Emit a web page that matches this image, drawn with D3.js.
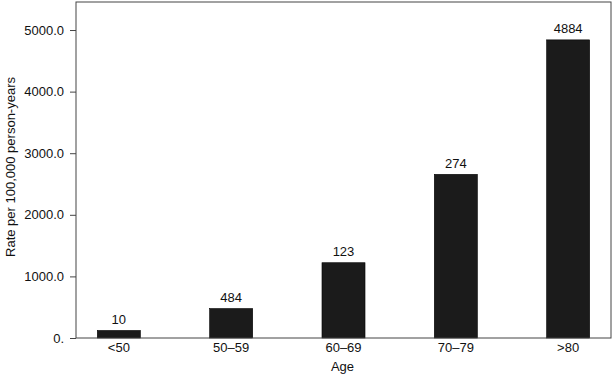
<!DOCTYPE html>
<html>
<head>
<meta charset="utf-8">
<script src="https://cdn.jsdelivr.net/npm/d3@7"></script>
<style>
  body { margin: 0; background: #fff; }
  svg text { font-family: "Liberation Sans", Arial, sans-serif; fill: #111; }
</style>
</head>
<body>
<div id="chart"></div>
<script>
// Data
const categories = ['<50', '50\u201359', '60\u201369', '70\u201379', '>80']
const rates = [122, 478, 1222, 2657, 4840]
const counts = ['10', '484', '123', '274', '4884']
const yTicks = [0, 1000, 2000, 3000, 4000, 5000]
const yTickLabels = ['0.', '1000.0', '2000.0', '3000.0', '4000.0', '5000.0']

// Dimensions
const dims = {
  width: 613,
  height: 375,
  left: 76,
  right: 611,
  top: 2,
  bottom: 338
}

const svg = d3.select('#chart')
  .append('svg')
  .attr('width', dims.width)
  .attr('height', dims.height)

// scales
const xScale = d3.scaleBand()
  .domain(categories)
  .range([dims.left, dims.right])
  .paddingInner(0.617)
  .paddingOuter(0.19)

const yScale = d3.scaleLinear()
  .domain([0, 5455])
  .range([dims.bottom, dims.top])

// bars
svg.append('g')
  .selectAll('rect')
  .data(rates)
  .join('rect')
  .attr('x', (d, i) => xScale(categories[i]))
  .attr('y', d => yScale(d))
  .attr('width', xScale.bandwidth())
  .attr('height', d => yScale(0) - yScale(d))
  .attr('fill', '#1b1b1b')
  .attr('stroke', '#000')
  .attr('stroke-width', 0.6)

// value labels
svg.append('g')
  .selectAll('text')
  .data(rates)
  .join('text')
  .attr('x', (d, i) => xScale(categories[i]) + xScale.bandwidth() / 2)
  .attr('y', d => yScale(d) - 6.5)
  .attr('text-anchor', 'middle')
  .attr('font-size', 13)
  .text((d, i) => counts[i])

// frame
svg.append('rect')
  .attr('x', dims.left)
  .attr('y', dims.top)
  .attr('width', dims.right - dims.left)
  .attr('height', dims.bottom - dims.top)
  .attr('fill', 'none')
  .attr('stroke', '#444')
  .attr('stroke-width', 1)

// axes
const yAxis = d3.axisLeft(yScale)
  .tickValues(yTicks)
  .tickFormat((d, i) => yTickLabels[i])
  .tickSize(6)
  .tickPadding(6)

const yAxisGroup = svg.append('g')
  .attr('transform', `translate(${dims.left}, 0)`)
  .call(yAxis)
yAxisGroup.select('.domain').remove()
yAxisGroup.selectAll('line').attr('stroke', '#444')
yAxisGroup.selectAll('text')
  .attr('font-size', 13)
  .attr('font-family', '"Liberation Sans", Arial, sans-serif')
  .attr('fill', '#111')

const xAxis = d3.axisBottom(xScale)
  .tickSize(0)
  .tickPadding(5)

const xAxisGroup = svg.append('g')
  .attr('transform', `translate(0, ${dims.bottom})`)
  .call(xAxis)
xAxisGroup.select('.domain').remove()
xAxisGroup.selectAll('text')
  .attr('font-size', 13)
  .attr('font-family', '"Liberation Sans", Arial, sans-serif')
  .attr('fill', '#111')

// axis titles
svg.append('text')
  .attr('x', (dims.left + dims.right) / 2 - 1)
  .attr('y', 371)
  .attr('text-anchor', 'middle')
  .attr('font-size', 13)
  .text('Age')

svg.append('text')
  .attr('transform', 'translate(15, 167) rotate(-90)')
  .attr('text-anchor', 'middle')
  .attr('font-size', 13)
  .text('Rate per 100,000 person-years')
</script>
</body>
</html>
